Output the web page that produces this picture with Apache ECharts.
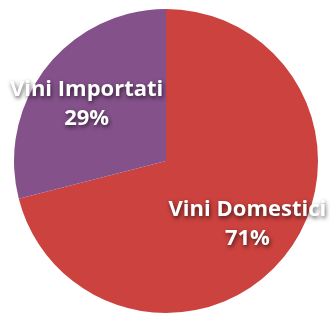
<!DOCTYPE html>
<html><head><meta charset="utf-8">
<script src="https://cdn.jsdelivr.net/npm/echarts@6/dist/echarts.min.js"></script>
<style>html,body{margin:0;padding:0;background:#fff}#c{width:332px;height:313px}</style>
</head><body><div id="c"></div>
<script>
var categories = ['Vini Domestici', 'Vini Importati'];
var values = [71, 29];
var colors = ['#cb423f', '#84518b'];
var labelOffsets = [[0, 0], [2, 6]];

var data = categories.map(function (c, i) { return { name: c, value: values[i], itemStyle: { color: colors[i] } }; });
var labelData = categories.map(function (c, i) { return { name: c, value: values[i], label: { offset: labelOffsets[i] } }; });

var chart = echarts.init(document.getElementById('c'));
chart.setOption({
  animation: false,
  series: [
    {
      type: 'pie', center: [166, 161], radius: [0, 152], startAngle: 90, clockwise: true,
      label: { show: false }, labelLine: { show: false }, silent: true,
      itemStyle: { borderWidth: 0 },
      data: data
    },
    {
      type: 'pie', center: [166, 161], radius: [48, 152], startAngle: 90, clockwise: true,
      silent: true, labelLine: { show: false },
      itemStyle: { color: 'rgba(0,0,0,0)', borderWidth: 0 },
      label: {
        show: true, position: 'inside', formatter: '{b}\n{c}%',
        color: '#ffffff', fontFamily: 'Open Sans', fontWeight: 'bold', fontSize: 22,
        lineHeight: 29, align: 'center',
        textShadowColor: 'rgba(0,0,0,0.65)', textShadowBlur: 4, textShadowOffsetX: 1, textShadowOffsetY: 2
      },
      data: labelData
    }
  ]
});
</script></body></html>
